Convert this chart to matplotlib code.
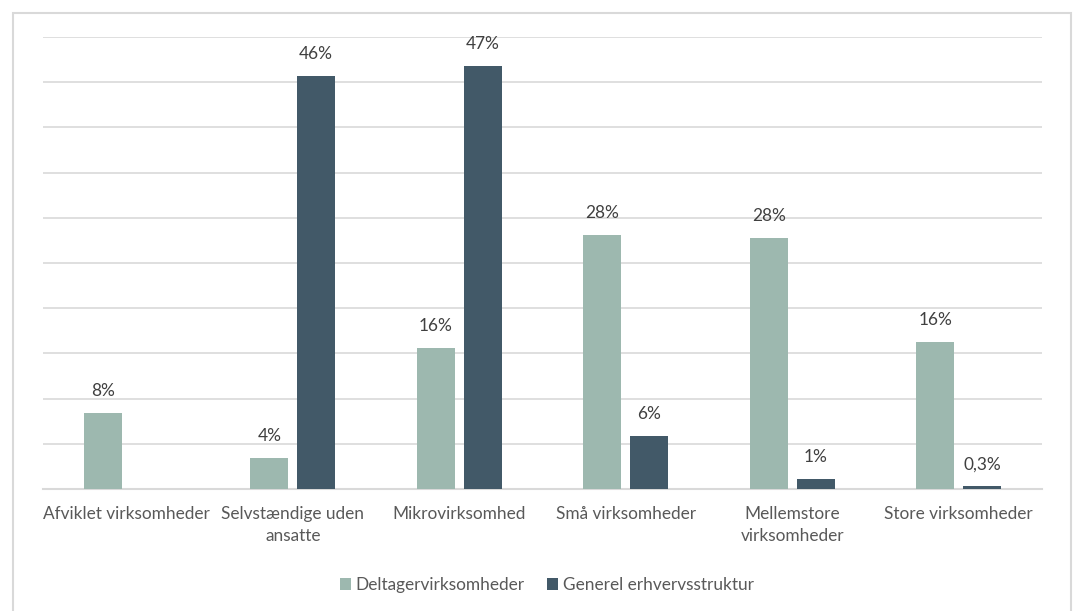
import matplotlib.pyplot as plt
import numpy as np
from matplotlib.patches import Rectangle

categories = ["Afviklet virksomheder", "Selvstændige uden\nansatte", "Mikrovirksomhed",
              "Små virksomheder", "Mellemstore\nvirksomheder", "Store virksomheder"]
deltager = [8.4, 3.4, 15.6, 28.1, 27.8, 16.3]
generel = [np.nan, 45.7, 46.8, 5.9, 1.1, 0.3]
deltager_labels = ["8%", "4%", "16%", "28%", "28%", "16%"]
generel_labels = ["", "46%", "47%", "6%", "1%", "0,3%"]

GREEN = "#9DB8AF"
DARK = "#425968"
GRID = "#D9D9D9"
TXT = "#595959"
LBL = "#404040"
FS = 12.4

plt.rcParams["font.family"] = ["Lato", "DejaVu Sans"]

fig = plt.figure(figsize=(10.77, 6.11), dpi=100, facecolor="white")
fig.patches.append(Rectangle((13 / 1077, -0.05), (1071 - 13) / 1077, (598 + 0.05 * 611) / 611,
                             transform=fig.transFigure, fill=False, edgecolor=GRID, linewidth=1.5))
ax = fig.add_axes([43 / 1077, (611 - 489) / 611, (1042 - 43) / 1077, (489 - 37) / 611])

x = np.arange(len(categories))
w = 0.228
off = 0.141
b1 = ax.bar(x - off, deltager, w, color=GREEN, label="Deltagervirksomheder", zorder=3)
b2 = ax.bar(x + off, generel, w, color=DARK, label="Generel erhvervsstruktur", zorder=3)

for bars, labels in ((b1, deltager_labels), (b2, generel_labels)):
    for rect, lab in zip(bars, labels):
        h = rect.get_height()
        if not lab or np.isnan(h):
            continue
        ax.annotate(lab, (rect.get_x() + rect.get_width() / 2, h), xytext=(0, 10),
                    textcoords="offset points", ha="center", va="bottom",
                    fontsize=FS, color=LBL)

ax.set_xlim(-0.5, len(categories) - 0.5)
ax.set_ylim(0, 50)
ax.set_yticks(np.arange(0, 51, 5))
ax.set_yticklabels([])
ax.tick_params(axis="y", length=0)
ax.tick_params(axis="x", length=0, pad=12)
ax.set_xticks(x)
ax.set_xticklabels(categories, fontsize=FS, color=TXT, linespacing=1.45)
ax.grid(axis="y", color=GRID, linewidth=1.2, zorder=0)
for s in ("top", "right", "left"):
    ax.spines[s].set_visible(False)
ax.spines["bottom"].set_color(GRID)
ax.spines["bottom"].set_linewidth(1.5)

fig.legend(loc="center", bbox_to_anchor=(547 / 1077, 1 - 585 / 611), ncol=2, frameon=False,
           fontsize=FS, labelcolor=TXT, handlelength=0.65, handleheight=0.65,
           handletextpad=0.25, columnspacing=1.3)

fig.savefig("out.png", dpi=100, facecolor="white")
